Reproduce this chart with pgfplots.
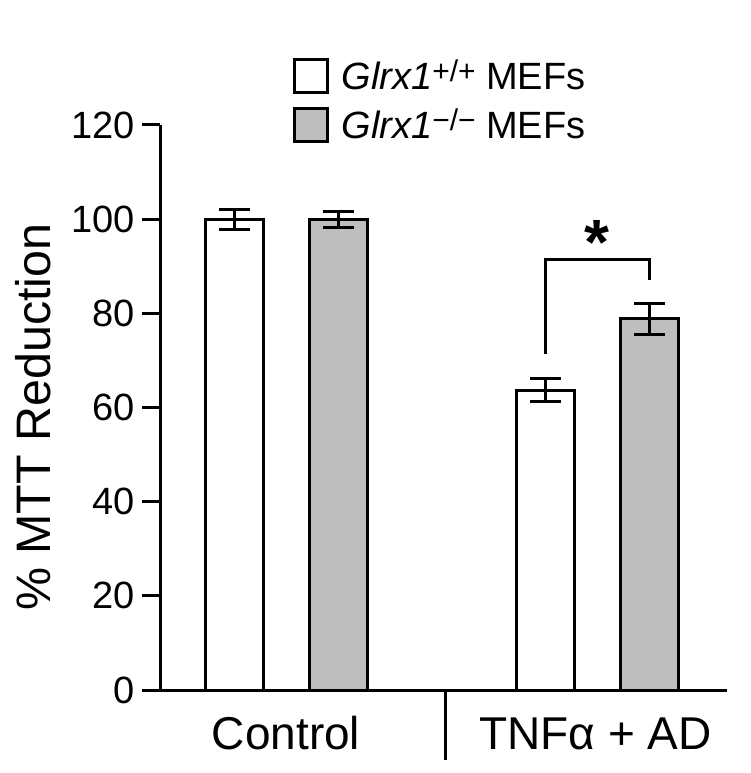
\documentclass[border=0pt]{standalone}
\usepackage{fontspec}
\setmainfont{Liberation Sans}
\usepackage{pgfplots}
\pgfplotsset{compat=1.18}
\definecolor{barGray}{RGB}{190,190,190}

\begin{document}
\begin{tikzpicture}
\begin{axis}[
  width=283.5pt, height=282.5pt, scale only axis,
  xmin=1.60, xmax=7.27, ymin=0, ymax=120,
  axis x line*=bottom, axis y line*=left,
  axis line style={line width=1.5pt},
  clip=false,
  tick align=outside, major tick length=9pt,
  ytick={0,20,...,120},
  ytick style={line width=1.5pt, black},
  yticklabel style={font=\fontsize{19}{22}\selectfont, /pgf/number format/assume math mode=true},
  xtick={2.86,5.955}, xticklabels={Control, TNFα + AD},
  xtick style={draw=none},
  xticklabel style={font=\fontsize{23}{26}\selectfont, anchor=base, yshift=-20.5pt},
  ylabel={\% MTT Reduction},
  ylabel style={font=\fontsize{24.2}{27}\selectfont, at={(rel axis cs:-0.224,0.483)}, anchor=center},
  ybar, bar shift=0pt, bar width=0.58,
  every axis plot/.append style={line width=1.5pt},
  error bars/error bar style={line width=1.5pt, black},
  error bars/error mark options={line width=1.5pt, mark size=7.75pt, black, rotate=90},
  legend style={draw=none, fill=none, at={(rel axis cs:0.233,1.119)}, anchor=north west,
    inner sep=0pt, row sep=6.5pt, font=\fontsize{19}{22}\selectfont,
    nodes={inner sep=0pt}, /tikz/every odd column/.append style={column sep=6.5pt}},
  legend cell align=left,
  legend image code/.code={\draw[#1, line width=1.5pt] (0pt,-8.25pt) rectangle (16.5pt,8.25pt);},
]
% Glrx1 +/+ (white)
\addplot[draw=black, fill=white, error bars/.cd, y dir=both, y explicit]
  coordinates {(2.345,100.0) +- (0,2.1) (5.455,63.7) +- (0,2.5)};
\addlegendentry{\textit{Glrx1}{\fontsize{15}{15}\selectfont\raisebox{0.5ex}{+/+}} MEFs}
% Glrx1 -/- (gray)
\addplot[draw=black, fill=barGray, error bars/.cd, y dir=both, y explicit]
  coordinates {(3.385,100.0) +- (0,1.7) (6.495,78.8) +- (0,3.3)};
\addlegendentry{\textit{Glrx1}{\fontsize{15}{15}\selectfont\raisebox{0.5ex}{−/−}} MEFs}

% group divider under the axis
\draw[line width=1.5pt] (axis cs:4.45,0) -- ([yshift=-35pt]axis cs:4.45,0);
% significance bracket
\draw[line width=1.5pt] (axis cs:5.455,71.4) |- (axis cs:6.495,91.5) -- (axis cs:6.495,87.1);
\node[anchor=north, inner sep=0pt, font=\fontsize{32}{34}\selectfont\bfseries] at (axis cs:5.97,99.8) {*};

\coordinate (bl) at (rel axis cs:-0.2822,-0.1469);
\coordinate (tr) at (rel axis cs:1.0406,1.2212);
\end{axis}
\pgfresetboundingbox
\path (bl) rectangle (tr);
\end{tikzpicture}
\end{document}
